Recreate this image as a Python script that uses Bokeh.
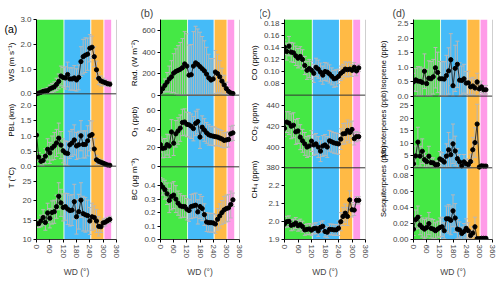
import math
from bokeh.plotting import figure
from bokeh.layouts import row
from bokeh.models import (ColumnDataSource, Whisker, TeeHead, FixedTicker, Title,
                          Span, Range1d)
from bokeh.core.properties import value
from bokeh.embed import file_html
from bokeh.resources import INLINE

# ---------------- data ----------------
wd = [0, 10, 20, 30, 40, 50, 60, 70, 80, 90, 100, 110, 120, 130, 140, 150, 160,
      170, 180, 190, 200, 210, 220, 230, 240, 250, 260, 270, 280, 290, 300, 310, 320, 330]
wd_ticks = [0, 60, 120, 180, 240, 300, 360]

band_left = [0, 125.5, 246.5, 305.5]
band_right = [121.5, 242, 301, 336]
band_colors = ["#45E845", "#45BBF8", "#FFBA45", "#FF9BE8"]

ws = [0.00, 0.03, 0.06, 0.10, 0.12, 0.13, 0.20, 0.24, 0.28, 0.38, 0.50, 0.72, 0.66, 0.64, 0.78, 0.60, 0.60,
      0.64, 0.56, 0.66, 1.30, 1.50, 1.56, 1.60, 1.84, 1.88, 1.50, 0.97, 0.62, 0.52, 0.48, 0.45, 0.41, 0.39]
ws_err = [0.05, 0.05, 0.08, 0.10, 0.10, 0.12, 0.15, 0.18, 0.20, 0.25, 0.30, 0.40, 0.40, 0.45, 0.50, 0.45, 0.45,
          0.50, 0.45, 0.50, 0.60, 0.70, 0.70, 0.65, 0.55, 0.45, 0.40, 0.35, 0.25, 0.20, 0.15, 0.12, 0.10, 0.10]

pbl = [1.03, 0.30, 0.16, 0.19, 0.33, 0.56, 0.44, 0.60, 0.67, 0.77, 0.93, 0.70, 0.51, 0.44, 0.42, 0.71, 0.77,
       0.87, 0.67, 0.71, 1.01, 0.72, 0.72, 0.84, 1.01, 1.05, 0.57, 0.21, 0.16, 0.13, 0.10, 0.07, 0.04, 0.03]
pbl_err = [0.10, 0.15, 0.15, 0.20, 0.25, 0.35, 0.35, 0.40, 0.45, 0.45, 0.50, 0.45, 0.40, 0.40, 0.40, 0.45, 0.45,
           0.50, 0.45, 0.45, 0.50, 0.45, 0.45, 0.50, 0.50, 0.45, 0.35, 0.15, 0.10, 0.08, 0.06, 0.05, 0.04, 0.03]

temp = [14.1, 14.1, 14.8, 15.7, 14.4, 16.9, 15.5, 17.0, 17.2, 18.5, 21.2, 19.5, 18.3, 18.5, 17.9, 17.5, 17.6,
        19.8, 15.9, 17.2, 20.2, 16.7, 16.4, 16.2, 14.8, 15.9, 15.7, 14.8, 13.4, 13.3, 14.3, 14.5, 14.9, 15.2]
temp_err = [1.0, 1.0, 1.5, 2.0, 2.0, 2.5, 2.5, 3.0, 3.0, 3.0, 3.5, 3.5, 3.5, 3.5, 4.0, 4.0, 4.0,
            4.5, 4.5, 4.5, 4.5, 4.5, 4.5, 4.0, 3.5, 3.5, 3.0, 3.0, 2.5, 1.5, 1.0, 1.0, 0.8, 0.8]

rad = [30, 60, 90, 120, 150, 170, 205, 220, 230, 240, 255, 290, 270, 185, 190, 270, 300,
       285, 265, 245, 225, 195, 160, 140, 150, 215, 200, 170, 130, 95, 60, 35, 20, 15]
rad_err = [20, 40, 60, 90, 120, 150, 180, 210, 230, 250, 270, 300, 300, 280, 280, 320, 340,
           330, 320, 300, 280, 250, 220, 200, 190, 200, 180, 150, 120, 90, 60, 40, 20, 15]

o3 = [23.5, 19.5, 20.0, 23.5, 22.0, 37.0, 25.0, 35.0, 38.0, 41.0, 47.0, 47.5, 45.0, 44.5, 43.0, 40.5, 46.0,
      48.0, 31.5, 42.0, 39.0, 36.0, 34.0, 33.0, 32.5, 32.0, 31.5, 30.5, 29.5, 28.0, 28.5, 29.0, 35.0, 36.0]
o3_err = [8, 10, 10, 11, 12, 13, 13, 14, 14, 14, 14, 14, 13, 13, 13, 13, 13,
          13, 12, 12, 12, 11, 11, 10, 10, 10, 9, 9, 9, 8, 8, 8, 8, 8]

bc = [0.41, 0.39, 0.37, 0.34, 0.29, 0.32, 0.33, 0.30, 0.27, 0.25, 0.245, 0.245, 0.225, 0.215, 0.245, 0.25, 0.255,
      0.205, 0.245, 0.23, 0.185, 0.13, 0.125, 0.125, 0.123, 0.115, 0.15, 0.175, 0.20, 0.22, 0.23, 0.235, 0.26, 0.295]
bc_err = [0.05, 0.06, 0.07, 0.08, 0.09, 0.10, 0.10, 0.10, 0.09, 0.09, 0.08, 0.08, 0.08, 0.08, 0.09, 0.09, 0.09,
          0.09, 0.09, 0.09, 0.08, 0.07, 0.07, 0.07, 0.07, 0.07, 0.08, 0.09, 0.09, 0.10, 0.10, 0.10, 0.10, 0.05]

co = [0.140, 0.133, 0.142, 0.132, 0.131, 0.126, 0.122, 0.125, 0.120, 0.110, 0.102, 0.105, 0.102, 0.097, 0.107, 0.104, 0.099,
      0.094, 0.100, 0.099, 0.096, 0.092, 0.088, 0.089, 0.092, 0.097, 0.100, 0.104, 0.103, 0.104, 0.102, 0.107, 0.101, 0.106]
co_err = [0.012, 0.014, 0.016, 0.016, 0.016, 0.016, 0.016, 0.016, 0.016, 0.015, 0.015, 0.015, 0.015, 0.015, 0.015, 0.015, 0.015,
          0.015, 0.015, 0.015, 0.015, 0.014, 0.014, 0.014, 0.012, 0.012, 0.012, 0.012, 0.012, 0.012, 0.010, 0.008, 0.008, 0.006]

co2 = [418.0, 424.0, 423.0, 420.0, 421.0, 414.6, 415.5, 409.5, 406.0, 403.0, 400.0, 401.0, 405.7, 402.0, 403.0, 400.0, 396.0,
       401.0, 402.0, 400.0, 406.0, 405.0, 404.0, 403.5, 403.0, 407.6, 412.7, 413.0, 416.0, 414.0, 417.0, 408.0, 410.0, 410.0]
co2_err = [8, 10, 11, 12, 12, 12, 12, 12, 11, 11, 10, 10, 10, 10, 10, 10, 10,
           10, 10, 10, 10, 10, 10, 10, 10, 10, 10, 10, 10, 10, 8, 6, 5, 4]

ch4 = [1.985, 1.998, 2.000, 1.978, 1.982, 1.991, 1.976, 1.982, 1.971, 1.953, 1.956, 1.958, 1.951, 1.960, 1.962, 1.947, 1.967,
       1.973, 1.944, 1.940, 1.956, 1.955, 1.953, 1.953, 1.962, 1.998, 2.027, 2.045, 2.027, 2.118, 2.064, 2.062, 2.116, 2.116]
ch4_err = [0.02, 0.03, 0.03, 0.03, 0.03, 0.03, 0.03, 0.03, 0.03, 0.03, 0.03, 0.03, 0.03, 0.03, 0.03, 0.03, 0.03,
           0.03, 0.03, 0.03, 0.03, 0.03, 0.03, 0.03, 0.04, 0.05, 0.05, 0.05, 0.05, 0.05, 0.04, 0.03, 0.02, 0.02]

isop = [0.49, 0.56, 0.52, 0.51, 0.47, 0.86, 0.43, 0.62, 0.60, 0.67, 0.98, 0.82, 0.60, 0.60, 0.59, 0.71, 0.87,
        1.26, 0.36, 0.96, 1.10, 0.55, 0.54, 0.60, 0.45, 0.46, 0.32, 0.35, 0.28, 0.49, 0.25, 0.32, 0.22, 0.22]
isop_err = [0.3, 0.4, 0.5, 0.5, 0.5, 0.6, 0.5, 0.6, 0.6, 0.6, 0.7, 0.7, 0.6, 0.6, 0.6, 0.7, 0.8,
            0.9, 0.6, 0.8, 0.8, 0.6, 0.5, 0.5, 0.4, 0.4, 0.3, 0.3, 0.3, 0.3, 0.2, 0.2, 0.15, 0.15]

mono = [1.6, 4.8, 10.4, 4.7, 6.7, 3.3, 2.5, 4.7, 2.1, 2.0, 1.2, 1.3, 3.6, 3.1, 2.3, 4.7, 7.3,
        5.3, 9.7, 6.8, 3.7, 2.4, 0.8, 2.4, 1.6, 1.3, 2.5, 7.3, 10.2, 17.7, 0.3, 0.8, 0.7, 0.7]
mono_err = [1.5, 4.0, 6.0, 4.0, 5.0, 3.0, 2.5, 4.0, 2.0, 2.0, 1.5, 1.5, 3.0, 3.0, 2.5, 5.0, 7.0,
            6.0, 8.0, 6.0, 4.0, 3.0, 1.5, 3.0, 2.0, 2.0, 3.0, 5.0, 6.0, 8.0, 0.5, 0.5, 0.5, 0.5]

sesq = [0.013, 0.025, 0.028, 0.018, 0.015, 0.013, 0.015, 0.020, 0.014, 0.013, 0.011, 0.013, 0.015, 0.016, 0.011, 0.026, 0.026,
        0.024, 0.036, 0.027, 0.013, 0.012, 0.0075, 0.010, 0.014, 0.011, 0.005, 0.008, 0.016, 0.001, 0.001, 0.0015, 0.0015, 0.0015]
sesq_err = [0.008, 0.012, 0.014, 0.012, 0.012, 0.012, 0.012, 0.014, 0.012, 0.012, 0.010, 0.010, 0.012, 0.012, 0.010, 0.016, 0.018,
            0.018, 0.020, 0.018, 0.012, 0.010, 0.008, 0.010, 0.012, 0.010, 0.006, 0.008, 0.012, 0.001, 0.001, 0.001, 0.001, 0.001]

FONT = "Liberation Sans"
ERR_COLOR = "#b8b8b8"
PAGE_H = 281


def label_fig(width, labels, label_right, bounds, size="8px", tag=None, tag_x=0):
    """narrow figure (no axes) holding the rotated y-axis titles and optionally the panel tag"""
    top, d1, d2, bot = bounds
    p = figure(width=width, height=PAGE_H, x_range=Range1d(0, width), y_range=Range1d(0, PAGE_H),
               output_backend="svg", toolbar_location=None,
               x_axis_location=None, y_axis_location=None,
               min_border_left=0, min_border_right=0, min_border_top=0, min_border_bottom=0)
    p.title.visible = False
    p.grid.visible = False
    p.outline_line_color = None
    centers = [(top + d1) / 2, (d1 + d2) / 2, (d2 + bot) / 2]
    for lab, c in zip(labels, centers):
        p.text(x=[label_right], y=[PAGE_H - c], text=[lab], angle=math.pi / 2,
               text_align="center", text_baseline="bottom", text_font=value(FONT),
               text_font_size=value(size), text_color="black")
    if tag:
        p.text(x=[tag_x], y=[PAGE_H - 12], text=[tag], text_align="left", text_baseline="alphabetic",
               text_font=value(FONT), text_font_size=value("10.5px"), text_color="black")
    return p


def main_fig(rows, width, bl, br, bounds, tag=None, tag_dx=0):
    top, d1, d2, bot = bounds
    H = bot - top
    bands_px = [(bot - d1, H), (bot - d2, bot - d1), (0, bot - d2)]
    p = figure(width=width, height=PAGE_H, x_range=Range1d(0, 360), y_range=Range1d(0, H),
               output_backend="svg", toolbar_location=None,
               min_border_left=bl, min_border_right=br, min_border_top=top,
               min_border_bottom=PAGE_H - bot)
    p.title.visible = False
    p.outline_line_color = None
    p.grid.visible = False
    bands = p.quad(left=band_left, right=band_right, bottom=0, top=H,
                   fill_color=band_colors, line_color=None)
    bands.level = "image"

    tick_pos, tick_txt = [], {}
    for i, (r, (pb, pt)) in enumerate(zip(rows, bands_px)):
        lo, hi = r["yr"]
        s = (hi - lo) / (pt - pb)
        name = "r%d" % i
        p.extra_y_ranges[name] = Range1d(lo - pb * s, hi + (H - pt) * s)
        vals, errs = r["vals"], r["errs"]
        src = ColumnDataSource(dict(x=wd, y=vals,
                                    lo=[max(v - e, lo) for v, e in zip(vals, errs)],
                                    hi=[min(v + e, hi) for v, e in zip(vals, errs)]))
        w = Whisker(source=src, base="x", lower="lo", upper="hi", line_color=ERR_COLOR, line_width=1,
                    upper_head=TeeHead(size=4, line_color=ERR_COLOR, line_width=1),
                    lower_head=TeeHead(size=4, line_color=ERR_COLOR, line_width=1),
                    y_range_name=name)
        w.level = "underlay"
        p.add_layout(w)
        p.line("x", "y", source=src, line_color="#111111", line_width=0.8, y_range_name=name)
        p.scatter("x", "y", source=src, size=4.2, fill_color="black", line_color="black",
                  y_range_name=name)
        for t in r["ticks"]:
            pos = pb + (t - lo) / s
            tick_pos.append(pos)
            tick_txt[pos] = r["fmt"].format(t)
        if pb > 0:
            p.add_layout(Span(location=pb, dimension="width", line_color="#333333", line_width=1))

    p.add_layout(Span(location=360, dimension="height", line_color="#a0a0a0", line_width=1))

    ya = p.yaxis[0]
    ya.ticker = FixedTicker(ticks=tick_pos)
    ya.major_label_overrides = tick_txt
    ya.major_label_text_font = FONT
    ya.major_label_text_font_size = "8px"
    ya.major_label_standoff = 2
    ya.major_tick_out = 3
    ya.major_tick_in = 0
    ya.minor_tick_out = 0
    ya.minor_tick_in = 0
    ya.axis_line_color = "black"

    xa = p.xaxis[0]
    xa.axis_line_color = "#333333"
    xa.ticker = FixedTicker(ticks=wd_ticks)
    xa.major_label_orientation = "vertical"
    xa.major_label_text_font = FONT
    xa.major_label_text_font_size = "8px"
    xa.major_label_standoff = 2
    xa.major_tick_out = 3
    xa.major_tick_in = 0
    xa.minor_tick_out = 0
    xa.minor_tick_in = 0
    xa.axis_label = "WD (°)"
    xa.axis_label_text_font = FONT
    xa.axis_label_text_font_size = "8.5px"
    xa.axis_label_text_font_style = "normal"
    xa.axis_label_standoff = 6

    if tag:
        p.add_layout(Title(text=tag, align="left", offset=tag_dx, standoff=2,
                           text_font=FONT, text_font_size="10.5px", text_font_style="normal"), "above")
    return p


bounds_a = (17, 92, 165, 239)
bounds_b = (17, 94, 167, 241)
bounds_c = (17, 94, 168, 241)
bounds_d = (19, 97, 170, 243)

lab_a = label_fig(17, ["WS (m s⁻¹)", "PBL (km)", "T (°C)"], 15, bounds_a, tag="(a)", tag_x=4)
col_a = main_fig([
    dict(vals=ws, errs=ws_err, yr=(0, 3.0), ticks=[0, 1, 2, 3], fmt="{:.1f}"),
    dict(vals=pbl, errs=pbl_err, yr=(0, 2.4), ticks=[0, 0.5, 1.0, 1.5, 2.0], fmt="{:.1f}"),
    dict(vals=temp, errs=temp_err, yr=(10, 29), ticks=[10, 15, 20, 25], fmt="{:.0f}"),
], 107, 16, 8, bounds_a)

lab_b = label_fig(15, ["Rad. (W m⁻²)", "O₃ (ppb)", "BC (μg m⁻³)"], 14, bounds_b)
col_b = main_fig([
    dict(vals=rad, errs=rad_err, yr=(0, 703), ticks=[0, 200, 400, 600], fmt="{:.0f}"),
    dict(vals=o3, errs=o3_err, yr=(0, 76), ticks=[0, 20, 40, 60], fmt="{:.0f}"),
    dict(vals=bc, errs=bc_err, yr=(0, 0.54), ticks=[0, 0.1, 0.2, 0.3, 0.4], fmt="{:.1f}"),
], 110, 19, 10, bounds_b, tag="(b)", tag_dx=-20)

lab_c = label_fig(11, ["CO (ppm)", "CO₂ (ppm)", "CH₄ (ppm)"], 9, bounds_c)
col_c = main_fig([
    dict(vals=co, errs=co_err, yr=(0.061, 0.186), ticks=[0.08, 0.10, 0.12, 0.14, 0.16, 0.18], fmt="{:.2f}"),
    dict(vals=co2, errs=co2_err, yr=(380, 450), ticks=[380, 400, 420, 440], fmt="{:.0f}"),
    dict(vals=ch4, errs=ch4_err, yr=(1.9, 2.295), ticks=[1.9, 2.0, 2.1, 2.2], fmt="{:.1f}"),
], 114, 23, 9, bounds_c, tag="(c)", tag_dx=-26)

lab_d = label_fig(15, ["Isoprene (ppb)", "Monoterpenes (ppb)", "Sesquiterpenes (ppb)"], 13, bounds_d, size="7.5px")
col_d = main_fig([
    dict(vals=isop, errs=isop_err, yr=(0, 2.65), ticks=[0, 0.5, 1.0, 1.5, 2.0, 2.5], fmt="{:.1f}"),
    dict(vals=mono, errs=mono_err, yr=(0, 29), ticks=[0, 5, 10, 15, 20, 25], fmt="{:.0f}"),
    dict(vals=sesq, errs=sesq_err, yr=(0, 0.09), ticks=[0, 0.02, 0.04, 0.06, 0.08], fmt="{:.2f}"),
], 111, 22, 8, bounds_d, tag="(d)", tag_dx=-21)

layout = row(lab_a, col_a, lab_b, col_b, lab_c, col_c, lab_d, col_d)

open("out.html", "w").write(file_html(layout, INLINE))
